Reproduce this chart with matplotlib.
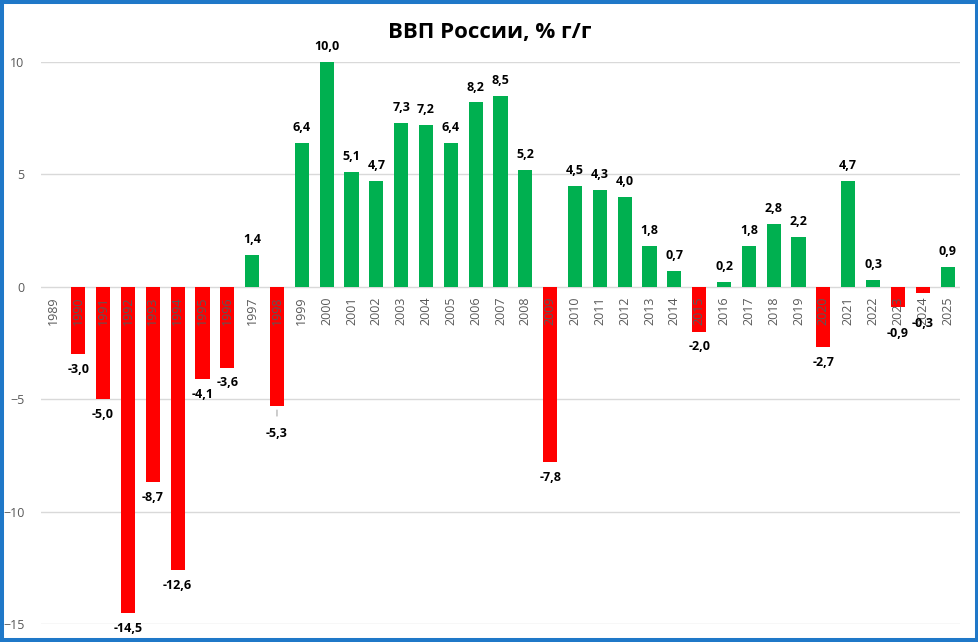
import matplotlib
matplotlib.use('Agg')
import matplotlib.pyplot as plt
from matplotlib.patches import Rectangle

plt.rcParams['font.family'] = ['Open Sans', 'DejaVu Sans']

years = list(range(1989, 2026))
# 1989 has no value on the chart
gdp = [None, -3.0, -5.0, -14.5, -8.7, -12.6, -4.1, -3.6, 1.4, -5.3,
       6.4, 10.0, 5.1, 4.7, 7.3, 7.2, 6.4, 8.2, 8.5, 5.2,
       -7.8, 4.5, 4.3, 4.0, 1.8, 0.7, -2.0, 0.2, 1.8, 2.8,
       2.2, -2.7, 4.7, 0.3, -0.9, -0.3, 0.9]
y_ticks = [-15, -10, -5, 0, 5, 10]

# labels that were moved by hand in the original (offset in points)
label_shift = {1998: -20, 2023: -19, 2024: -21.5}

GREEN = '#00B050'
RED = '#FF0000'
GREY = '#595959'

fig = plt.figure(figsize=(9.79, 6.42), dpi=100)
ax = fig.add_axes([0.0419, 0.028, 0.9387, 0.8756])

x = list(range(len(years)))
vals = [v if v is not None else 0 for v in gdp]
colors = [GREEN if v >= 0 else RED for v in vals]
ax.bar(x, vals, width=0.57, color=colors, zorder=1)

for yt in y_ticks:
    ax.axhline(yt, color='#D9D9D9', lw=1, zorder=0)

for i, (yr, v) in enumerate(zip(years, gdp)):
    if v is None:
        continue
    txt = f'{v:.1f}'.replace('.', ',')
    off = label_shift.get(yr, 11 if v >= 0 else -11)
    kw = {}
    if yr == 1998:
        kw['arrowprops'] = dict(arrowstyle='-', color='#A6A6A6', lw=0.8,
                                shrinkA=6, shrinkB=3)
    ax.annotate(txt, (i, v), xytext=(0, off), textcoords='offset points',
                ha='center', va='center', fontsize=9, fontweight='bold',
                color='black', zorder=3, **kw)

# x axis sits on the zero line
ax.spines['bottom'].set_position(('data', 0))
for s in ax.spines.values():
    s.set_visible(False)
ax.set_xlim(-0.5, len(years) - 0.5)
ax.set_ylim(-15, 10)
ax.set_yticks(y_ticks)
ax.set_xticks(x)
ax.set_xticklabels([str(y) for y in years])
ax.tick_params(axis='x', length=0, pad=7, labelsize=9, labelcolor=GREY,
               labelrotation=90)
ax.tick_params(axis='y', length=0, pad=12, labelsize=9, labelcolor=GREY)

fig.text(0.5, 0.949, 'ВВП России, % г/г', ha='center', va='center',
         fontsize=16, fontweight='bold', color='black')

# blue frame around the whole picture
fig.patches.append(Rectangle((2, 2), 975, 638, transform=None, fill=False,
                             edgecolor='#1F78C8', lw=2.9))

fig.savefig('out.png', dpi=100)
